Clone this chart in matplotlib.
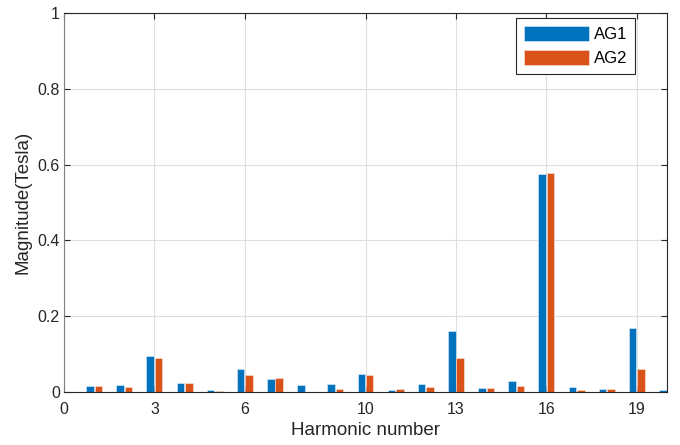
import numpy as np
import matplotlib
matplotlib.use("Agg")
import matplotlib.pyplot as plt

plt.rcParams['font.family'] = ['Liberation Sans', 'DejaVu Sans']

harmonics = list(range(1, 21))
ag1 = [0.015, 0.019, 0.096, 0.024, 0.006, 0.061, 0.035, 0.019, 0.022, 0.048,
       0.006, 0.021, 0.161, 0.010, 0.029, 0.575, 0.014, 0.007, 0.168, 0.006]
ag2 = [0.015, 0.014, 0.089, 0.024, 0.003, 0.045, 0.036, 0.000, 0.007, 0.044,
       0.008, 0.014, 0.090, 0.010, 0.016, 0.578, 0.006, 0.008, 0.062, 0.004]
xticks = [0, 3, 6, 10, 13, 16, 19]
yticks = [0, 0.2, 0.4, 0.6, 0.8, 1]
ytick_labels = ['0', '0.2', '0.4', '0.6', '0.8', '1']

blue = '#0072BD'
orange = '#D95319'
axcol = '#262626'

fig = plt.figure(figsize=(6.8, 4.45), dpi=100)
ax = fig.add_axes([0.094, 0.119, 0.887, 0.852])

x = np.array(harmonics)
w = 0.25
off = 0.14
ax.bar(x - off, ag1, width=w, color=blue, edgecolor='#e8f0f8', linewidth=0.4, label='AG1', zorder=2)
ax.bar(x + off, ag2, width=w, color=orange, edgecolor='#f8e8e0', linewidth=0.4, label='AG2', zorder=2)

ax.set_xlim(0, 20)
ax.set_ylim(0, 1)
ax.set_xticks(xticks)
ax.set_xticklabels([str(t) for t in xticks])
ax.set_yticks(yticks)
ax.set_yticklabels(ytick_labels)
ax.grid(True, color='#dfdfdf', linewidth=0.8, zorder=0)
ax.set_axisbelow(True)
ax.tick_params(direction='in', top=True, right=True, length=4, width=0.8,
               colors=axcol, labelsize=11.5, labelcolor='#262626')
ax.tick_params(axis='y', pad=3)
ax.tick_params(axis='x', pad=7)
for s in ax.spines.values():
    s.set_color(axcol)
    s.set_linewidth(0.8)
ax.spines['left'].set_color('#808080')

ax.set_xlabel('Harmonic number', fontsize=13.5, color='#262626', labelpad=4)
ax.set_ylabel('Magnitude(Tesla)', fontsize=13.5, color='#262626', labelpad=4)

leg = ax.legend(loc='upper right', bbox_to_anchor=(0.946, 0.986), fontsize=12,
                frameon=True, fancybox=False, edgecolor=axcol, framealpha=1,
                handlelength=3.9, handleheight=1.05, borderpad=0.45, labelspacing=0.45,
                handletextpad=0.3, borderaxespad=0)
leg.get_frame().set_linewidth(0.8)

fig.savefig('out.png', dpi=100)
